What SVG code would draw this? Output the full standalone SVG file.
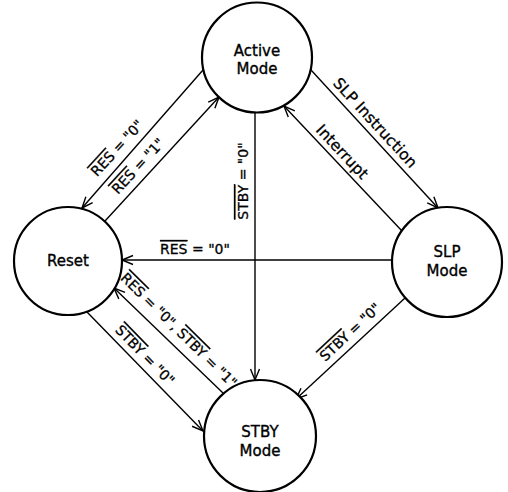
<svg xmlns="http://www.w3.org/2000/svg" width="508" height="492" viewBox="0 0 508 492">
<defs>
<style>
.node{fill:#fff;stroke:#000;stroke-width:2.2}
.nt{font-family:"DejaVu Sans","Liberation Sans",sans-serif;font-size:15px;text-anchor:middle;fill:#000;stroke:#000;stroke-width:0.35}
.lt{font-family:"DejaVu Sans","Liberation Sans",sans-serif;font-size:14px;text-anchor:middle;fill:#000;stroke:#000;stroke-width:0.3}
.big{font-size:15.5px}
.ov{text-decoration:overline}
.edge{fill:none;stroke:#000;stroke-width:1.4;marker-end:url(#arr)}
</style>
<marker id="arr" markerWidth="14" markerHeight="12" refX="12" refY="6" orient="auto" markerUnits="userSpaceOnUse">
<path d="M1,1.5 L12,6 L1,10.5" fill="none" stroke="#000" stroke-width="1.4"/>
</marker>
</defs>
<rect width="508" height="492" fill="#fff"/>
<g id="connectors">
<line class="edge" x1="203" y1="70" x2="82" y2="208"/>
<line class="edge" x1="105" y1="221" x2="219" y2="97"/>
<line class="edge" x1="311" y1="70" x2="438" y2="208"/>
<line class="edge" x1="402" y1="231" x2="284" y2="106"/>
<line class="edge" x1="255" y1="113" x2="255" y2="380"/>
<line class="edge" x1="392" y1="260" x2="122" y2="260"/>
<line class="edge" x1="405" y1="298" x2="296" y2="399"/>
<line class="edge" x1="223" y1="393" x2="114" y2="288"/>
<line class="edge" x1="87" y1="312" x2="203" y2="431"/>
<text class="lt" transform="translate(117,148) rotate(-47.5)" y="5"><tspan class="ov">RES</tspan> = "0"</text>
<text class="lt" transform="translate(138,166) rotate(-47.3)" y="5"><tspan class="ov">RES</tspan> = "1"</text>
<text class="lt big" transform="translate(375,123) rotate(47.4)" y="5">SLP Instruction</text>
<text class="lt big" transform="translate(342,152) rotate(46.8)" y="5">Interrupt</text>
<text class="lt" transform="translate(248,181) rotate(-90)"><tspan class="ov">STBY</tspan> = "0"</text>
<text class="lt" x="195" y="254"><tspan class="ov">RES</tspan> = "0"</text>
<text class="lt" transform="translate(350,332) rotate(-43)" y="5"><tspan class="ov">STBY</tspan> = "0"</text>
<text class="lt" transform="translate(179,330) rotate(44.5)" y="5"><tspan class="ov">RES</tspan> = "0", <tspan class="ov">STBY</tspan> = "1"</text>
<text class="lt" transform="translate(145,355) rotate(45.7)" y="5"><tspan class="ov">STBY</tspan> = "0"</text>
</g>
<g id="active">
<circle class="node" cx="257" cy="57.5" r="55"/>
<text class="nt" x="257" y="56">Active</text>
<text class="nt" x="257" y="74">Mode</text>
</g>
<g id="reset">
<circle class="node" cx="68" cy="261" r="54"/>
<text class="nt" x="68" y="266">Reset</text>
</g>
<g id="slp">
<circle class="node" cx="447" cy="262" r="55"/>
<text class="nt" x="447" y="257">SLP</text>
<text class="nt" x="447" y="276">Mode</text>
</g>
<g id="stby">
<circle class="node" cx="260" cy="436" r="56"/>
<text class="nt" x="260" y="437">STBY</text>
<text class="nt" x="260" y="456">Mode</text>
</g>
</svg>
